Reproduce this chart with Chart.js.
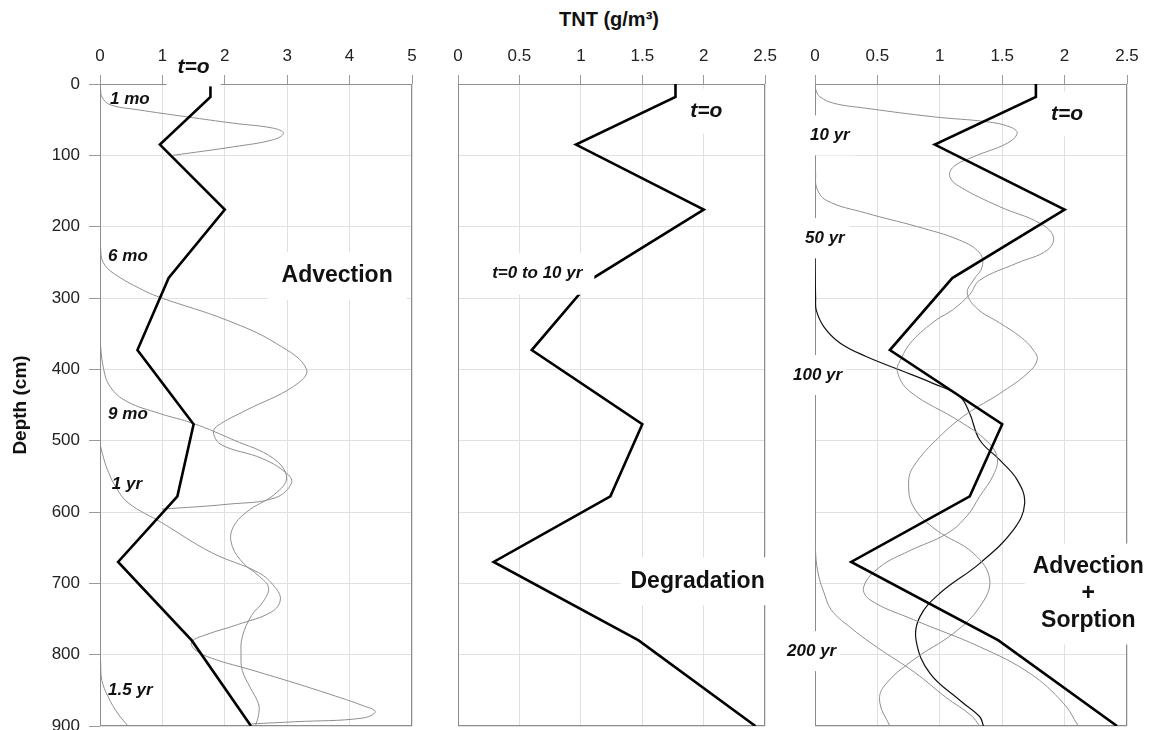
<!DOCTYPE html>
<html>
<head>
<meta charset="utf-8">
<script src="https://cdn.jsdelivr.net/npm/chart.js@4"></script>
<style>
  body { margin: 0; background: #fff; width: 1151px; height: 730px; position: relative; overflow: hidden;
         font-family: "Liberation Sans", Arial, sans-serif; }
  canvas { position: absolute; top: 0; }
  #c1 { left: 0; }
  #c2 { left: 440px; }
  #c3 { left: 780px; }
  #title { position: absolute; top: 8px; left: 459px; width: 300px; text-align: center;
           font-weight: bold; font-size: 20px; line-height: 22px; color: #111; }
</style>
</head>
<body>
<div id="title">TNT (g/m³)</div>
<canvas id="c1" width="425" height="746"></canvas>
<canvas id="c2" width="345" height="730"></canvas>
<canvas id="c3" width="371" height="730"></canvas>
<script>
"use strict";

// ---------- Data (depth in cm, TNT in g/m3) ----------

const depthTicks = [0, 100, 200, 300, 400, 500, 600, 700, 800, 900];
const advTicks = [0, 1, 2, 3, 4, 5];
const concTicks = [0, 0.5, 1, 1.5, 2, 2.5];

// initial profile, t = 0
const t0Depth = [0, 18, 85, 176, 272, 373, 477, 578, 670, 780, 900];
const t0Conc = [1.77, 1.77, 0.96, 2.0, 1.1, 0.6, 1.5, 1.24, 0.29, 1.47, 2.42];

// advection only
const mo1Depth = [0, 8, 18, 29, 36, 46, 55, 62, 69, 78, 88, 100];
const mo1Conc = [0, 0.01, 0.03, 0.16, 0.6, 1.39, 2.14, 2.78, 2.94, 2.78, 2.14, 1.17];

const mo6Depth = [185, 230, 250, 265, 289, 300, 331, 364, 400, 424, 457, 480, 490, 506, 525, 545, 559, 580, 589, 596];
const mo6Conc = [0, 0.01, 0.05, 0.21, 0.69, 0.99, 2.03, 2.83, 3.31, 3.1, 2.35, 1.87, 1.82, 1.95, 2.6, 2.98, 3.07, 2.81, 2.06, 0.99];

const mo9Depth = [358, 396, 424, 445, 462, 476, 499, 525, 552, 575, 600, 624, 648, 672, 690, 706, 725, 745, 775, 800, 822, 845, 869, 885, 900];
const mo9Conc = [0, 0.05, 0.16, 0.43, 0.96, 1.5, 2.14, 2.78, 2.99, 2.8, 2.35, 2.12, 2.12, 2.3, 2.55, 2.7, 2.62, 2.43, 2.28, 2.26, 2.28, 2.4, 2.54, 2.54, 2.49];

const yr1Depth = [505, 531, 549, 563, 587, 615, 657, 685, 705, 723, 740, 758, 772, 782, 793, 805, 822, 840, 856, 871, 880, 889, 894, 897];
const yr1Conc = [0, 0.08, 0.16, 0.24, 0.45, 0.99, 1.79, 2.54, 2.8, 2.89, 2.75, 2.2, 1.7, 1.47, 1.52, 1.79, 2.45, 3.13, 3.7, 4.2, 4.41, 4.2, 3.13, 2.43];

const yr15Depth = [790, 810, 836, 859, 883, 900];
const yr15Conc = [0, 0.01, 0.03, 0.13, 0.29, 0.45];

// advection + sorption
const yr10Depth = [0, 10, 18, 27, 34, 46, 53, 60, 69, 83, 102, 116, 130, 144, 172, 195, 214, 233, 251, 275, 295, 317, 331, 360, 385, 403, 431, 473, 501, 524, 548, 578, 605, 630, 655, 677, 705, 723, 751, 789, 826, 868, 900];
const yr10Conc = [0, 0.01, 0.04, 0.15, 0.41, 0.95, 1.38, 1.56, 1.62, 1.54, 1.27, 1.11, 1.08, 1.16, 1.48, 1.8, 1.91, 1.86, 1.62, 1.32, 1.24, 1.1, 0.97, 0.78, 0.69, 0.66, 0.76, 1.16, 1.38, 1.46, 1.43, 1.32, 1.22, 1.06, 0.75, 0.52, 0.39, 0.44, 0.79, 1.32, 1.72, 1.99, 2.11];

const yr50Depth = [95, 125, 144, 163, 181, 200, 219, 237, 256, 275, 293, 315, 335, 355, 373, 387, 406, 434, 462, 494, 536, 560, 593, 625, 658, 695, 733, 770, 807, 845, 868, 900];
const yr50Conc = [0, 0.005, 0.01, 0.09, 0.41, 0.82, 1.16, 1.32, 1.34, 1.27, 1.22, 1.3, 1.48, 1.65, 1.75, 1.78, 1.7, 1.48, 1.22, 1.0, 0.79, 0.75, 0.79, 0.97, 1.27, 1.4, 1.32, 1.11, 0.79, 0.55, 0.52, 0.6];

const yr100Depth = [245, 300, 317, 340, 363, 382, 401, 420, 438, 462, 499, 527, 555, 588, 625, 672, 714, 747, 780, 826, 864, 887, 900];
const yr100Conc = [0, 0.005, 0.01, 0.07, 0.2, 0.41, 0.68, 0.95, 1.16, 1.24, 1.32, 1.48, 1.62, 1.68, 1.59, 1.32, 1.0, 0.84, 0.81, 0.92, 1.16, 1.32, 1.35];

const yr200Depth = [440, 600, 658, 690, 712, 737, 760, 790, 825, 860, 885, 900];
const yr200Conc = [0, 0.002, 0.005, 0.03, 0.07, 0.13, 0.27, 0.5, 0.8, 1.05, 1.25, 1.32];

// ---------- Styling ----------

const FONT = '"Liberation Sans", Arial, sans-serif';
const GRID = "#e0e0e0";
const TICK = "#9a9a9a";
const BORDER = "#8c8c8c";
const THIN = "#8e8e8e";
const LABEL = `bold italic 17px ${FONT}`;
const TITLE = `bold 23px ${FONT}`;
const TZERO = `bold italic 21px ${FONT}`;

function pts(depths, conc) {
    return depths.map((d, i) => ({ x: conc[i], y: d }));
}

function thick() {
    return { data: pts(t0Depth, t0Conc), borderColor: "#000", borderWidth: 2.6, tension: 0, order: 0 };
}

function thin(depths, conc, color = THIN, width = 1) {
    return { data: pts(depths, conc), borderColor: color, borderWidth: width, tension: 0.4, order: 1 };
}

// frame around the plot area + text labels sitting on white patches
const panelDecor = {
    id: "panelDecor",
    beforeDatasetsDraw(chart) {
        const { ctx, chartArea: a } = chart;
        ctx.save();
        ctx.strokeStyle = BORDER;
        ctx.lineWidth = 1;
        ctx.strokeRect(Math.round(a.left) + 0.5, Math.round(a.top) + 0.5,
            Math.round(a.right - a.left) - 1, Math.round(a.bottom - a.top) - 1);
        ctx.restore();
    },
    afterDatasetsDraw(chart, args, opts) {
        const { ctx, scales: { x, y } } = chart;
        for (const lb of opts.labels || []) {
            ctx.save();
            ctx.font = lb.font;
            const lines = lb.text.split("\n");
            const lh = lb.lineHeight || 20;
            const w = Math.max(...lines.map((s) => ctx.measureText(s).width));
            const h = lh * lines.length;
            const px = x.getPixelForValue(lb.v);
            const py = y.getPixelForValue(lb.d);
            const left = lb.align === "left" ? px : px - w / 2;
            if (lb.box) {
                ctx.fillStyle = "#fff";
                ctx.fillRect(left - lb.box[0], py - h / 2 - lb.box[1], w + 2 * lb.box[0], h + 2 * lb.box[1]);
            }
            ctx.fillStyle = "#111";
            ctx.textBaseline = "middle";
            ctx.textAlign = "left";
            lines.forEach((s, i) => {
                const lw = ctx.measureText(s).width;
                const lx = lb.align === "left" ? left : px - lw / 2;
                ctx.fillText(s, lx, py - h / 2 + lh * (i + 0.5));
            });
            ctx.restore();
        }
    },
};

function makePanel(id, { xMax, xTicks, yWidth, padRight, padBottom, showDepth, datasets, labels }) {
    return new Chart(document.getElementById(id), {
        type: "scatter",
        data: { datasets: datasets.map((d) => ({ ...d, showLine: true, pointRadius: 0, fill: false })) },
        options: {
            responsive: false,
            devicePixelRatio: 1,
            animation: false,
            events: [],
            layout: { padding: { left: 0, right: padRight, top: 0, bottom: padBottom }, autoPadding: false },
            plugins: {
                legend: { display: false },
                tooltip: { enabled: false },
                panelDecor: { labels },
            },
            scales: {
                x: {
                    type: "linear",
                    position: "top",
                    min: 0,
                    max: xMax,
                    afterBuildTicks: (s) => { s.ticks = xTicks.map((v) => ({ value: v })); },
                    afterFit: (s) => { s.height = 84; },
                    grid: { color: GRID, tickColor: TICK, tickLength: 9 },
                    border: { display: false },
                    ticks: { font: { size: 17, family: FONT }, color: "#222", padding: 8, callback: (v) => String(v) },
                },
                y: {
                    type: "linear",
                    reverse: true,
                    min: 0,
                    max: 900,
                    afterBuildTicks: (s) => { s.ticks = depthTicks.map((v) => ({ value: v })); },
                    afterFit: (s) => { s.width = yWidth; },
                    grid: { color: GRID, tickColor: TICK, tickLength: 11, drawTicks: showDepth },
                    border: { display: false },
                    ticks: { display: showDepth, font: { size: 17, family: FONT }, color: "#222", padding: 9, callback: (v) => String(v) },
                    title: {
                        display: showDepth,
                        text: "Depth (cm)",
                        font: { size: 19, weight: "bold", family: FONT },
                        color: "#111",
                        padding: { top: 9, bottom: 0 },
                    },
                },
            },
        },
        plugins: [panelDecor],
    });
}

// ---------- Panels ----------

makePanel("c1", {
    xMax: 5, xTicks: advTicks, yWidth: 100, padRight: 13, padBottom: 20, showDepth: true,
    datasets: [
        thick(),
        thin(mo1Depth, mo1Conc),
        thin(mo6Depth, mo6Conc),
        thin(mo9Depth, mo9Conc),
        thin(yr1Depth, yr1Conc),
        thin(yr15Depth, yr15Conc),
    ],
    labels: [
        { text: "t=o", v: 1.5, d: -24, font: TZERO, lineHeight: 21, box: [11, 9] },
        { text: "1 mo", v: 0.16, d: 21, font: LABEL, align: "left" },
        { text: "6 mo", v: 0.13, d: 241, font: LABEL, align: "left" },
        { text: "9 mo", v: 0.13, d: 463, font: LABEL, align: "left" },
        { text: "1 yr", v: 0.19, d: 561, font: LABEL, align: "left" },
        { text: "1.5 yr", v: 0.13, d: 850, font: LABEL, align: "left" },
        { text: "Advection", v: 3.8, d: 269, font: TITLE, lineHeight: 24, box: [14, 12] },
    ],
});

makePanel("c2", {
    xMax: 2.5, xTicks: concTicks, yWidth: 18, padRight: 17, padBottom: 4, showDepth: false,
    datasets: [thick()],
    labels: [
        { text: "t=o", v: 2.02, d: 38, font: TZERO, lineHeight: 21, box: [9, 12] },
        { text: "t=0 to 10 yr", v: 0.645, d: 266, font: LABEL, lineHeight: 20, box: [12, 11] },
        { text: "Degradation", v: 1.95, d: 697, font: TITLE, lineHeight: 24, box: [10, 12] },
    ],
});

makePanel("c3", {
    xMax: 2.5, xTicks: concTicks, yWidth: 35, padRight: 24, padBottom: 4, showDepth: false,
    datasets: [
        thick(),
        thin(yr10Depth, yr10Conc),
        thin(yr50Depth, yr50Conc),
        thin(yr100Depth, yr100Conc, "#111", 1.2),
        thin(yr200Depth, yr200Conc),
    ],
    labels: [
        { text: "t=o", v: 2.02, d: 42, font: TZERO, lineHeight: 21, box: [10, 12] },
        { text: "10 yr", v: -0.04, d: 72, font: LABEL, align: "left", box: [5, 10] },
        { text: "50 yr", v: -0.08, d: 216, font: LABEL, align: "left", box: [5, 10] },
        { text: "100 yr", v: -0.176, d: 408, font: LABEL, align: "left", box: [4, 10] },
        { text: "200 yr", v: -0.224, d: 795, font: LABEL, align: "left", box: [4, 10] },
        { text: "Advection\n+\nSorption", v: 2.19, d: 715, font: TITLE, lineHeight: 27, box: [8, 10] },
    ],
});
</script>
</body>
</html>
